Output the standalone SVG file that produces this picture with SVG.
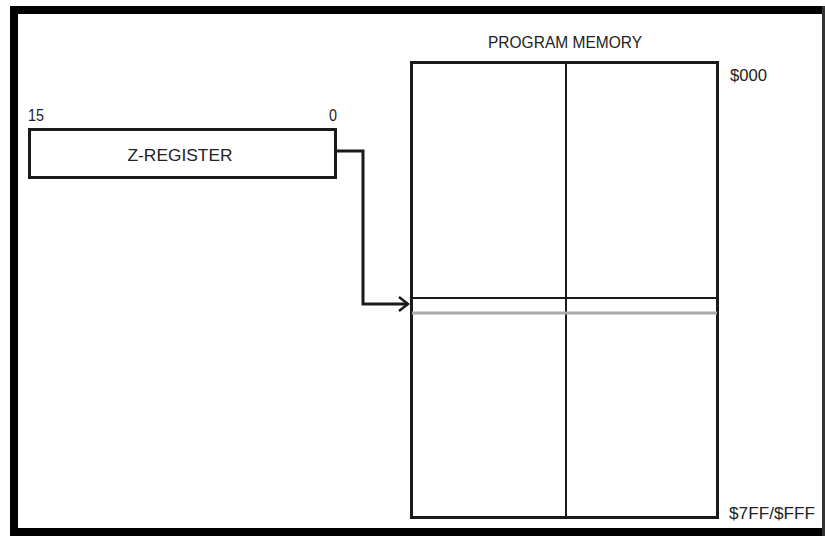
<svg xmlns="http://www.w3.org/2000/svg" width="825" height="536" viewBox="0 0 825 536">
<style>
text{font-family:"Liberation Sans",Arial,sans-serif;font-size:17px;fill:#222}
.box{fill:none;stroke:#1a1a1a;stroke-width:3}
.ln{fill:none;stroke:#1a1a1a;stroke-width:2}
.conn{fill:none;stroke:#1a1a1a;stroke-width:3}
</style>
<defs>
<marker id="arr" markerWidth="12" markerHeight="16" refX="10" refY="8" orient="auto" markerUnits="userSpaceOnUse">
<path d="M1,1 L10,8 L1,15" fill="none" stroke="#1a1a1a" stroke-width="2.5"/>
</marker>
</defs>
<rect x="0" y="0" width="825" height="536" fill="#fff"/>
<g id="frame">
<rect x="10" y="6" width="815" height="8" fill="#000"/>
<rect x="10" y="6" width="8" height="530" fill="#000"/>
<rect x="10" y="528" width="815" height="8" fill="#000"/>
<rect x="822" y="6" width="3" height="530" fill="#333"/>
</g>
<g id="z-register">
<rect class="box" x="29.5" y="129.5" width="306" height="48"/>
<text x="28" y="121" textLength="16" lengthAdjust="spacingAndGlyphs">15</text>
<text x="329" y="121" textLength="8" lengthAdjust="spacingAndGlyphs">0</text>
<text x="180" y="161" text-anchor="middle" textLength="105" lengthAdjust="spacingAndGlyphs">Z-REGISTER</text>
</g>
<g id="program-memory">
<rect class="box" x="411.5" y="62.5" width="306" height="455"/>
<line class="ln" x1="566" y1="63" x2="566" y2="517"/>
<line class="ln" x1="412" y1="298" x2="717" y2="298"/>
<line x1="412" y1="313" x2="717" y2="313" stroke="#aaa" stroke-width="3"/>
<text x="565" y="48" text-anchor="middle" textLength="154" lengthAdjust="spacingAndGlyphs">PROGRAM MEMORY</text>
<text x="730" y="81" textLength="37" lengthAdjust="spacingAndGlyphs">$000</text>
<text x="729" y="519" textLength="86" lengthAdjust="spacingAndGlyphs">$7FF/$FFF</text>
</g>
<g id="connectors">
<path class="conn" d="M336,151 H363 V304 H408" marker-end="url(#arr)"/>
</g>
</svg>
